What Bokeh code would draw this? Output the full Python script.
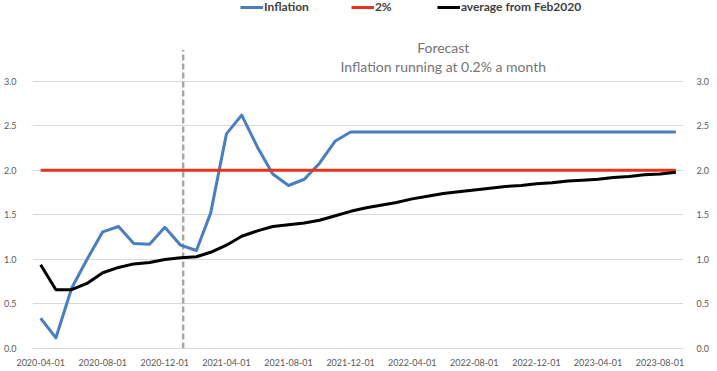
import pandas as pd
from bokeh.plotting import figure
from bokeh.models import (Range1d, FixedTicker, LinearAxis, Legend, LegendItem, Label,
                          DatetimeTickFormatter, PrintfTickFormatter)
from bokeh.embed import file_html
from bokeh.resources import INLINE

# ---------------- data ----------------
months = pd.date_range("2020-04-01", "2023-09-01", freq="MS")  # monthly categories

inflation = [0.34, 0.12, 0.68, 1.00, 1.31, 1.37, 1.18, 1.17, 1.36, 1.16, 1.10, 1.52,
             2.41, 2.62, 2.26, 1.96, 1.83, 1.90, 2.08, 2.33, 2.43,
             2.43, 2.43, 2.43, 2.43, 2.43, 2.43, 2.43, 2.43, 2.43, 2.43, 2.43,
             2.43, 2.43, 2.43, 2.43, 2.43, 2.43, 2.43, 2.43, 2.43, 2.43]

target = [2.0] * 42

average = [0.94, 0.66, 0.66, 0.73, 0.85, 0.91, 0.95, 0.965, 1.00, 1.02, 1.03, 1.08,
           1.16, 1.26, 1.32, 1.37, 1.39, 1.41, 1.44, 1.49, 1.54,
           1.58, 1.61, 1.64, 1.68, 1.71, 1.74, 1.76, 1.78, 1.80, 1.82, 1.83,
           1.85, 1.86, 1.88, 1.89, 1.90, 1.92, 1.93, 1.95, 1.96, 1.98]

tick_dates = ["2020-04-01", "2020-08-01", "2020-12-01", "2021-04-01", "2021-08-01",
              "2021-12-01", "2022-04-01", "2022-08-01", "2022-12-01", "2023-04-01",
              "2023-08-01"]
y_ticks = [0.0, 0.5, 1.0, 1.5, 2.0, 2.5, 3.0]

forecast_start = "2021-01-06"
series_labels = ["Inflation", "2%", "average from Feb2020"]
note_title = "Forecast"
note_text = "Inflation running at 0.2% a month"

# ---------------- styling ----------------
FONT = "Lato"
BLUE = "#4a7ec1"
RED = "#e8341c"
BLACK = "#000000"
GRID = "#d9d9d9"
TICK_TXT = "#595959"


def ms(d):
    return pd.Timestamp(d).timestamp() * 1000.0


x_start = pd.Timestamp("2020-03-16")
x_end = pd.Timestamp("2023-09-16")

p = figure(width=712, height=368, x_axis_type="datetime",
           output_backend="svg", toolbar_location=None,
           x_range=Range1d(x_start, x_end), y_range=Range1d(0, 3.907),
           min_border_left=32, min_border_right=24, min_border_top=0,
           min_border_bottom=19)
p.outline_line_color = None
p.background_fill_color = "white"
p.border_fill_color = "white"

# grid
p.xgrid.visible = False
p.ygrid.ticker = FixedTicker(ticks=y_ticks)
p.ygrid.grid_line_color = GRID
p.ygrid.grid_line_width = 1

# x axis
xa = p.xaxis[0]
xa.ticker = FixedTicker(ticks=[ms(d) for d in tick_dates])
fmt = "%Y-%m-%d"
xa.formatter = DatetimeTickFormatter(days=fmt, months=fmt, years=fmt, hours=fmt,
                                     hourmin=fmt, minutes=fmt)
xa.major_tick_line_color = None
xa.minor_tick_line_color = None
xa.axis_line_color = GRID
xa.major_label_standoff = 4
xa.major_label_text_font = FONT
xa.major_label_text_font_size = "9px"
xa.major_label_text_color = TICK_TXT

# left y axis
ya = p.yaxis[0]
ya.ticker = FixedTicker(ticks=y_ticks)
ya.formatter = PrintfTickFormatter(format="%.1f")
ya.axis_line_color = None
ya.major_tick_line_color = None
ya.minor_tick_line_color = None
ya.major_label_standoff = 10
ya.major_label_text_font = FONT
ya.major_label_text_font_size = "9px"
ya.major_label_text_color = TICK_TXT

# right y axis
ra = LinearAxis(ticker=FixedTicker(ticks=y_ticks),
                formatter=PrintfTickFormatter(format="%.1f"))
ra.axis_line_color = None
ra.major_tick_line_color = None
ra.minor_tick_line_color = None
ra.major_label_standoff = 7
ra.major_label_text_font = FONT
ra.major_label_text_font_size = "9px"
ra.major_label_text_color = TICK_TXT
p.add_layout(ra, "right")

# forecast divider
p.segment(x0=[pd.Timestamp(forecast_start)], y0=[0], x1=[pd.Timestamp(forecast_start)],
          y1=[3.35], line_color="#a6a6a6", line_width=2.5, line_dash="6 3")

# series
r_blue = p.line(months, inflation, line_color=BLUE, line_width=3, line_join="round")
r_red = p.line(months, target, line_color=RED, line_width=3)
r_black = p.line(months, average, line_color=BLACK, line_width=3, line_join="round")

legend = Legend(items=[LegendItem(label=series_labels[0], renderers=[r_blue]),
                       LegendItem(label=series_labels[1], renderers=[r_red]),
                       LegendItem(label=series_labels[2], renderers=[r_black])],
                location=(208, 334), orientation="horizontal")
legend.padding = 0
legend.margin = 0
legend.spacing = 42
legend.label_standoff = 1
legend.glyph_width = 23
legend.glyph_height = 14
legend.label_height = 14
legend.label_text_font = FONT
legend.label_text_font_style = "bold"
legend.label_text_font_size = "12px"
legend.label_text_color = "#404040"
legend.border_line_color = None
legend.background_fill_alpha = 0
p.add_layout(legend)

# annotation
note_x = ms("2022-06-01")
p.add_layout(Label(x=note_x, y=3.38, text=note_title, text_align="center",
                   text_baseline="middle", text_font=FONT, text_font_size="14px",
                   text_color="#757575"))
p.add_layout(Label(x=note_x, y=3.165, text=note_text, text_align="center",
                   text_baseline="middle", text_font=FONT, text_font_size="14px",
                   text_color="#757575"))

open("out.html", "w").write(file_html(p, INLINE))
